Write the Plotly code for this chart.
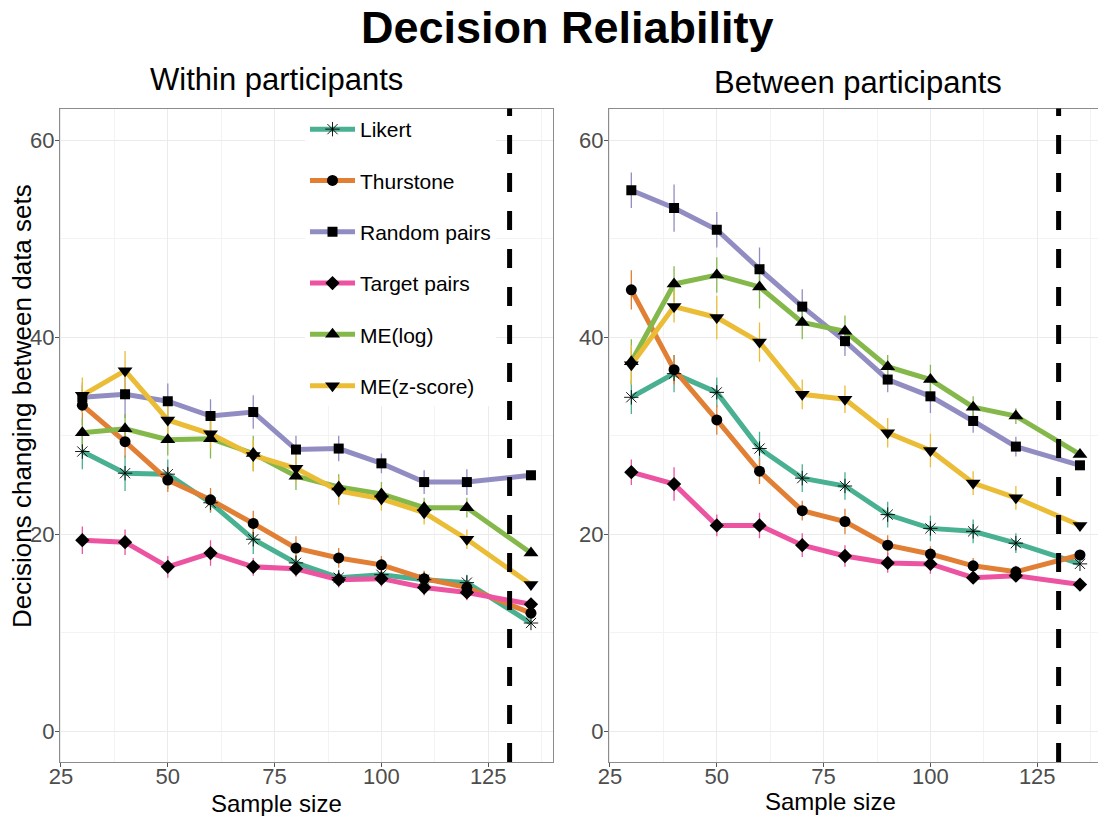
import plotly.graph_objects as go

W, H = 1098, 816

sample_sizes = [30, 40, 50, 60, 70, 80, 90, 100, 110, 120, 135]
series_names = ["Likert", "Thurstone", "Random pairs", "Target pairs", "ME(log)", "ME(z-score)"]

# Within participants
within_likert = [28.4, 26.2, 26.1, 23.2, 19.5, 17.1, 15.6, 15.9, 15.4, 15.1, 11.0]
within_thurstone = [33.1, 29.4, 25.5, 23.5, 21.1, 18.6, 17.6, 16.9, 15.5, 14.6, 12.0]
within_random = [33.9, 34.2, 33.5, 32.0, 32.4, 28.6, 28.7, 27.2, 25.3, 25.3, 26.0]
within_target = [19.4, 19.2, 16.7, 18.1, 16.7, 16.5, 15.4, 15.5, 14.6, 14.1, 12.9]
within_melog = [30.3, 30.7, 29.6, 29.7, 28.2, 25.9, 24.8, 24.1, 22.7, 22.7, 18.1]
within_mez = [34.1, 36.6, 31.6, 30.2, 28.0, 26.7, 24.4, 23.6, 22.2, 19.5, 14.9]

within_likert_err = [1.8, 1.8, 1.5, 1.0, 1.5, 0.8, 0.8, 0.8, 0.8, 0.8, 0]
within_thurstone_err = [2.0, 1.6, 1.2, 1.2, 1.3, 1.2, 1.0, 0.9, 0.8, 0.8, 0]
within_random_err = [1.5, 2.4, 1.8, 1.7, 1.7, 1.4, 1.3, 1.0, 1.2, 1.3, 0]
within_target_err = [1.4, 1.3, 1.1, 1.3, 0.9, 0.8, 0.8, 0.8, 0.8, 0.8, 0]
within_melog_err = [1.5, 1.5, 1.6, 2.0, 1.8, 1.4, 1.3, 1.2, 1.0, 1.0, 0]
within_mez_err = [1.8, 2.0, 1.5, 1.5, 1.6, 1.4, 1.4, 1.2, 1.2, 1.0, 0]

# Between participants
between_likert = [33.9, 36.3, 34.4, 28.7, 25.7, 24.9, 22.0, 20.6, 20.3, 19.1, 17.0]
between_thurstone = [44.8, 36.7, 31.6, 26.4, 22.4, 21.3, 18.9, 18.0, 16.8, 16.2, 17.9]
between_random = [54.9, 53.1, 50.9, 46.9, 43.1, 39.6, 35.7, 34.0, 31.5, 28.9, 27.0]
between_target = [26.3, 25.1, 20.9, 20.9, 18.9, 17.8, 17.1, 17.0, 15.6, 15.8, 14.9]
between_melog = [37.5, 45.4, 46.3, 45.1, 41.5, 40.6, 37.0, 35.7, 32.9, 32.0, 28.1]
between_mez = [37.2, 43.1, 42.0, 39.5, 34.2, 33.7, 30.3, 28.5, 25.2, 23.7, 20.9]

between_likert_err = [1.7, 1.9, 1.5, 1.7, 1.4, 1.4, 1.3, 1.3, 1.2, 1.0, 0]
between_thurstone_err = [2.0, 1.5, 1.5, 1.3, 1.0, 1.3, 1.0, 0.8, 0.8, 0.6, 0]
between_random_err = [1.8, 2.4, 1.8, 2.2, 1.75, 1.5, 1.3, 1.7, 1.2, 1.0, 0]
between_target_err = [1.3, 1.7, 1.1, 1.3, 1.2, 1.1, 1.0, 1.0, 0.6, 0.6, 0]
between_melog_err = [2.3, 1.8, 1.8, 2.2, 1.7, 1.6, 1.2, 1.5, 1.1, 0.8, 0]
between_mez_err = [2.0, 1.6, 2.2, 2.0, 1.5, 1.4, 1.5, 1.7, 1.2, 1.2, 0]

cutoff_sample = 130

x_ticks = [25, 50, 75, 100, 125]
y_ticks = [0, 20, 40, 60]

colors = ["#49B192", "#E17F35", "#918DC2", "#EC54A1", "#85B84B", "#EBBC35"]
symbols = ["asterisk-open", "circle", "square", "diamond", "triangle-up", "triangle-down"]
sizes = [12, 11, 10, 11, 13, 13]

within = [within_likert, within_thurstone, within_random, within_target, within_melog, within_mez]
within_err = [within_likert_err, within_thurstone_err, within_random_err,
              within_target_err, within_melog_err, within_mez_err]
between = [between_likert, between_thurstone, between_random, between_target, between_melog, between_mez]
between_err = [between_likert_err, between_thurstone_err, between_random_err,
               between_target_err, between_melog_err, between_mez_err]

FONT = "Liberation Sans, Arial, sans-serif"


def px(x):
    return x / W


def py(y):
    return 1 - y / H


def marker_style(i):
    if symbols[i] == "asterisk-open":
        return dict(symbol=symbols[i], size=sizes[i], color="black",
                    line=dict(color="#333333", width=0.9))
    return dict(symbol=symbols[i], size=sizes[i], color="black", line=dict(width=0))


fig = go.Figure()

# legend entries
for i, name in enumerate(series_names):
    fig.add_trace(go.Scatter(
        x=[None], y=[None], mode="lines+markers", name=name,
        legendgroup=name, showlegend=True,
        line=dict(color=colors[i], width=5), marker=marker_style(i),
        xaxis="x", yaxis="y"))

for data, errs, xa, ya in [(within, within_err, "x", "y"), (between, between_err, "x2", "y2")]:
    # error bars
    for i, name in enumerate(series_names):
        fig.add_trace(go.Scatter(
            x=sample_sizes, y=data[i], mode="markers", showlegend=False,
            legendgroup=name, hoverinfo="skip",
            marker=dict(size=0.1, color="rgba(0,0,0,0)"),
            error_y=dict(type="data", array=errs[i], visible=True,
                         color=colors[i], thickness=1.3, width=0),
            xaxis=xa, yaxis=ya))
    # lines
    for i, name in enumerate(series_names):
        fig.add_trace(go.Scatter(
            x=sample_sizes, y=data[i], mode="lines", showlegend=False,
            legendgroup=name, line=dict(color=colors[i], width=5),
            xaxis=xa, yaxis=ya))
    # markers
    for i, name in enumerate(series_names):
        fig.add_trace(go.Scatter(
            x=sample_sizes, y=data[i], mode="markers", showlegend=False,
            legendgroup=name, marker=marker_style(i),
            xaxis=xa, yaxis=ya))

ax_common = dict(
    showgrid=True, gridcolor="#EBEBEB", gridwidth=1, zeroline=False,
    showline=True, linecolor="#8C8C8C", linewidth=1,
    ticks="outside", ticklen=4, tickcolor="#555555", tickwidth=1,
    tickfont=dict(family=FONT, size=22, color="#4D4D4D"),
    automargin=False,
)

x_range_left = [24.75, 140.25]
x_range_right = [24.75, 139.22]
y_range = [-3.1, 63.2]

fig.update_layout(
    width=W, height=H,
    margin=dict(l=0, r=0, t=0, b=0),
    paper_bgcolor="white", plot_bgcolor="white",
    font=dict(family=FONT),
    xaxis=dict(domain=[px(59.9), px(553.4)], range=x_range_left, tickvals=x_ticks,
               mirror=True, anchor="y", ticklabelstandoff=-9,
               minor=dict(tick0=25, dtick=12.5, showgrid=True, gridcolor="#F3F3F3", gridwidth=0.6),
               **ax_common),
    yaxis=dict(domain=[py(762), py(108.5)], range=y_range, tickvals=y_ticks,
               mirror=True, anchor="x", ticklabelstandoff=-4,
               minor=dict(tick0=0, dtick=10, showgrid=True, gridcolor="#F3F3F3", gridwidth=0.6),
               **ax_common),
    xaxis2=dict(domain=[px(608.9), 1.0], range=x_range_right, tickvals=x_ticks,
                mirror=True, anchor="y2", ticklabelstandoff=-9,
                minor=dict(tick0=25, dtick=12.5, showgrid=True, gridcolor="#F3F3F3", gridwidth=0.6),
                **ax_common),
    yaxis2=dict(domain=[py(762), py(108.5)], range=y_range, tickvals=y_ticks,
                mirror=False, anchor="x2", ticklabelstandoff=-4,
                minor=dict(tick0=0, dtick=10, showgrid=True, gridcolor="#F3F3F3", gridwidth=0.6),
                **ax_common),
    legend=dict(x=px(305), y=py(109), xanchor="left", yanchor="top",
                bgcolor="white", borderwidth=0,
                font=dict(family=FONT, size=21, color="black"),
                tracegroupgap=21, itemwidth=45),
    showlegend=True,
)

# dashed cutoff lines
for xa, ya in [("x", "y"), ("x2", "y2")]:
    fig.add_shape(type="line", xref=xa, yref=ya + " domain",
                  x0=cutoff_sample, x1=cutoff_sample, y0=0, y1=1,
                  line=dict(color="black", width=5, dash="19px,19px"), layer="above")

annotations = [
    dict(text="<b>Decision Reliability</b>", x=px(567), y=py(28), size=45),
    dict(text="Within participants", x=px(276), y=py(80), size=31),
    dict(text="Between participants", x=px(858), y=py(83), size=31),
    dict(text="Sample size", x=px(276), y=py(803), size=24),
    dict(text="Sample size", x=px(830), y=py(801), size=24),
]
for a in annotations:
    fig.add_annotation(text=a["text"], x=a["x"], y=a["y"], xref="paper", yref="paper",
                       xanchor="center", yanchor="middle", showarrow=False,
                       font=dict(family=FONT, size=a["size"], color="black"))
fig.add_annotation(text="Decisions changing between data sets", x=px(22), y=py(406),
                   xref="paper", yref="paper", xanchor="center", yanchor="middle",
                   textangle=-90, showarrow=False,
                   font=dict(family=FONT, size=26, color="black"))

fig.write_html("out.html")
